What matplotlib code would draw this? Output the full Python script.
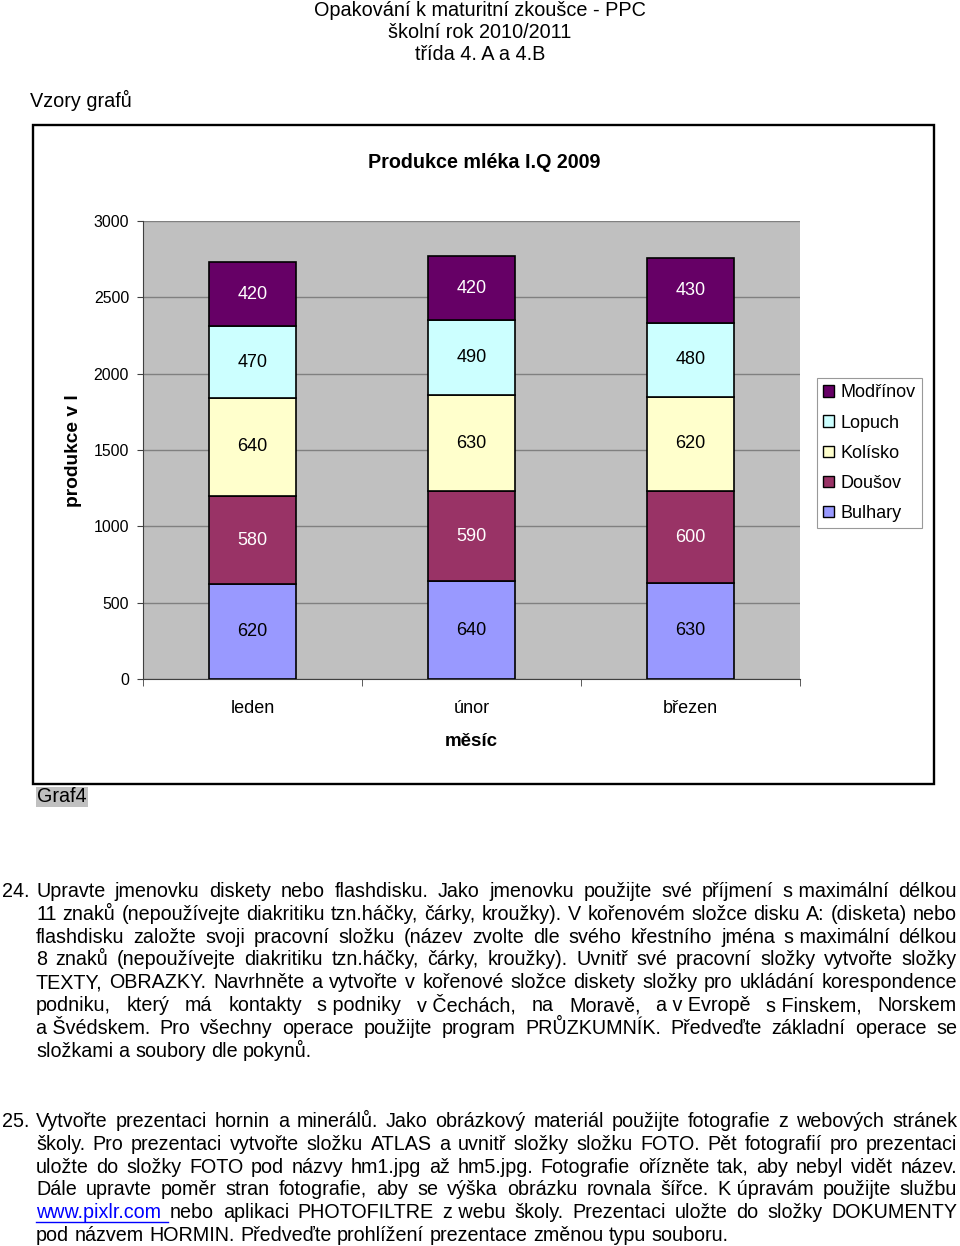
"""Stacked milk production chart embedded in an exam handout page."""

import matplotlib

matplotlib.use("Agg")
import matplotlib.pyplot as plt
import numpy as np
from matplotlib.lines import Line2D
from matplotlib.patches import Patch, Rectangle

plt.rcParams["font.family"] = ["Liberation Sans", "DejaVu Sans"]

W, H = 960, 1246

months = ["leden", "únor", "březen"]
series = ["Bulhary", "Doušov", "Kolísko", "Lopuch", "Modřínov"]
values = {
    "Bulhary": [620, 640, 630],
    "Doušov": [580, 590, 600],
    "Kolísko": [640, 630, 620],
    "Lopuch": [470, 490, 480],
    "Modřínov": [420, 420, 430],
}
colors = {
    "Bulhary": "#9999FF",
    "Doušov": "#993366",
    "Kolísko": "#FFFFCC",
    "Lopuch": "#CCFFFF",
    "Modřínov": "#660066",
}
label_colors = {
    "Bulhary": "black",
    "Doušov": "white",
    "Kolísko": "black",
    "Lopuch": "black",
    "Modřínov": "white",
}
y_ticks = [0, 500, 1000, 1500, 2000, 2500, 3000]

header = ["Opakování k maturitní zkoušce - PPC", "školní rok 2010/2011", "třída 4. A a 4.B"]

# "~" marks a non-breaking space (gap that is not stretched by justification)
para24 = [
    "Upravte jmenovku diskety nebo flashdisku. Jako jmenovku použijte své příjmení s~maximální délkou",
    "11 znaků (nepoužívejte diakritiku tzn.háčky, čárky, kroužky). V kořenovém složce disku A: (disketa) nebo",
    "flashdisku založte svoji pracovní složku (název zvolte dle svého křestního jména s~maximální délkou",
    "8 znaků (nepoužívejte diakritiku tzn.háčky, čárky, kroužky). Uvnitř své pracovní složky vytvořte složky",
    "TEXTY, OBRAZKY. Navrhněte a vytvořte v kořenové složce diskety složky pro ukládání korespondence",
    "podniku, který má kontakty s~podniky v~Čechách, na Moravě, a~v~Evropě s~Finskem, Norskem",
    "a~Švédskem. Pro všechny operace použijte program PRŮZKUMNÍK. Předveďte základní operace se",
    "složkami a soubory dle pokynů.",
]
para25 = [
    "Vytvořte prezentaci hornin a minerálů. Jako obrázkový materiál použijte fotografie z webových stránek",
    "školy. Pro prezentaci vytvořte složku ATLAS a uvnitř složky složku FOTO. Pět fotografií pro prezentaci",
    "uložte do složky FOTO pod názvy hm1.jpg až hm5.jpg. Fotografie ořízněte tak, aby nebyl vidět název.",
    "Dále upravte poměr stran fotografie, aby se výška obrázku rovnala šířce. K~úpravám použijte službu",
    "www.pixlr.com nebo aplikaci PHOTOFILTRE z~webu školy. Prezentaci uložte do složky DOKUMENTY",
    "pod názvem HORMIN. Předveďte prohlížení prezentace změnou typu souboru.",
]
link = "www.pixlr.com"


def fx(px):
    return px / W


def fy(py):
    return 1 - py / H


fig = plt.figure(figsize=(W / 100, H / 100), dpi=100)
renderer = fig.canvas.get_renderer()

# page header
for text, y in zip(header, [10, 32, 55]):
    fig.text(fx(480), fy(y), text, fontsize=14.3, ha="center", va="center")
fig.text(fx(30), fy(100), "Vzory grafů", fontsize=14.3, ha="left", va="center")

# chart frame
fig.add_artist(
    Rectangle((fx(33), fy(784)), 901 / W, 659 / H, transform=fig.transFigure,
              fill=False, lw=1.7, ec="black")
)

ax = fig.add_axes([fx(143), fy(679), 657 / W, 458 / H])
ax.set_facecolor("#C0C0C0")
x = np.arange(len(months))
bottom = np.zeros(len(months))
for name in series:
    vals = np.array(values[name])
    ax.bar(x, vals, 0.4, bottom=bottom, color=colors[name], edgecolor="black",
           lw=1.2, zorder=3)
    for xi, b, v in zip(x, bottom, vals):
        ax.text(xi, b + v / 2, str(v), ha="center", va="center", fontsize=13,
                color=label_colors[name], zorder=4)
    bottom += vals

ax.set_xlim(-0.5, 2.5)
ax.set_ylim(0, 3000)
ax.set_yticks(y_ticks)
ax.yaxis.grid(True, color="#808080", lw=1, zorder=1)
ax.tick_params(axis="y", length=4, pad=6, labelsize=11.4, color="#404040")
ax.set_xticks(x)
ax.set_xticklabels(months)
ax.set_xticks([-0.5, 0.5, 1.5, 2.5], minor=True)
ax.tick_params(axis="x", which="major", length=0, pad=15, labelsize=13)
ax.tick_params(axis="x", which="minor", length=5, color="#404040")
for side in ["top", "right"]:
    ax.spines[side].set_visible(False)
ax.spines["left"].set_color("#404040")
ax.spines["bottom"].set_color("#404040")

fig.text(fx(484), fy(162), "Produkce mléka I.Q 2009", fontsize=14.2,
         fontweight="bold", ha="center", va="center")
fig.text(fx(471), fy(741), "měsíc", fontsize=13.5, fontweight="bold",
         ha="center", va="center")
fig.text(fx(73), fy(451), "produkce v l", fontsize=13.8, fontweight="bold",
         ha="center", va="center", rotation=90)

handles = [Patch(facecolor=colors[n], edgecolor="black", lw=1) for n in reversed(series)]
leg = fig.legend(handles, list(reversed(series)), loc="upper left",
                 bbox_to_anchor=(fx(817), fy(378)), borderaxespad=0,
                 fontsize=13, frameon=True, fancybox=False, edgecolor="#808080",
                 handlelength=0.6, handleheight=0.6, handletextpad=0.35,
                 labelspacing=0.73, borderpad=0.35)
leg.get_frame().set_linewidth(0.8)

fig.text(fx(37), fy(797), "Graf4", fontsize=14.2, ha="left", va="center",
         bbox=dict(boxstyle="square,pad=0.05", fc="#C0C0C0", ec="none"))

# justified body text, placed on baselines
BODY = 14.2
space_w = 0.278 * BODY * 100 / 72


def draw_line(line, y, x0=36, x1=957, justify=True):
    tokens = [t.replace("~", " ") for t in line.split(" ")]
    texts = []
    for t in tokens:
        col = "#0000FF" if t == link else "black"
        texts.append(fig.text(0, fy(y), t, fontsize=BODY, ha="left",
                              va="baseline", color=col))
    widths = [t.get_window_extent(renderer).width for t in texts]
    gap = space_w
    if justify and len(tokens) > 1:
        gap = max((x1 - x0 - sum(widths)) / (len(tokens) - 1), 2)
    xp = x0
    for t, w, tok in zip(texts, widths, tokens):
        t.set_x(fx(xp))
        if tok == link:
            fig.add_artist(Line2D([fx(xp), fx(xp + w + gap * 0.8)],
                                  [fy(y + 3.5), fy(y + 3.5)],
                                  transform=fig.transFigure, color="#0000FF", lw=1))
        xp += w + gap


def draw_para(num, lines, y0, step=22.8):
    fig.text(fx(2), fy(y0), num, fontsize=BODY, ha="left", va="baseline")
    for i, line in enumerate(lines):
        draw_line(line, y0 + i * step, justify=i < len(lines) - 1)


draw_para("24.", para24, 897)
draw_para("25.", para25, 1127)

fig.savefig("out.png", dpi=100)
